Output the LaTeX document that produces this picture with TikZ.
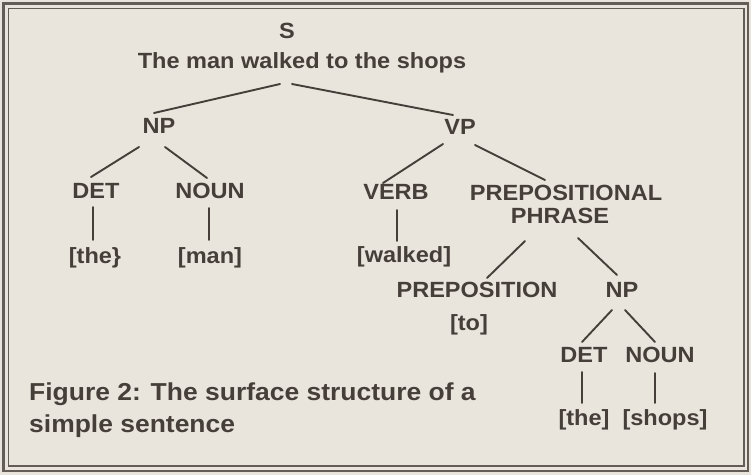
\documentclass[tikz,border=0pt]{standalone}
\usepackage{fontspec}
\newfontfamily\tf[FakeStretch=1.07]{Liberation Sans}
\newfontfamily\cf[FakeStretch=1.08]{Liberation Sans}
\usetikzlibrary{calc}
\definecolor{bgc}{HTML}{E9E5DD}
\definecolor{ink}{HTML}{463E39}
\definecolor{framec}{HTML}{645D57}
\tikzset{
  lbl/.style={inner sep=0pt, anchor=base, text=ink, font=\tf\bfseries\fontsize{22}{24}\selectfont},
  captxt/.style={inner sep=0pt, anchor=base west, text=ink, font=\cf\bfseries\fontsize{24.5}{26}\selectfont},
  conn/.style={draw=ink, line width=1.9pt, line cap=round}
}
\begin{document}
\begin{tikzpicture}[x=1pt,y=-1pt]
\useasboundingbox (0,0) rectangle (751,475);
\fill[bgc] (0,0) rectangle (751,475);
\draw[framec, line width=2.6pt] (3.5,3.5) rectangle (748,471);
\draw[framec, line width=1.5pt] (8.5,8.5) rectangle (744,466);

% nodes
\node[lbl] (s) at (287,38) {S};
\node[lbl] (sent) at (302,68) {The man walked to the shops};
\node[lbl] (np1) at (159,133) {NP};
\node[lbl] (vp) at (460,134) {VP};
\node[lbl] (det1) at (96,198) {DET};
\node[lbl] (noun1) at (210,198) {NOUN};
\node[lbl] (the1) at (95,263) {[the\}};
\node[lbl] (man) at (210,263) {[man]};
\node[lbl] (verb) at (396,199) {VERB};
\node[lbl] (pp1) at (566,200) {PREPOSITIONAL};
\node[lbl] (pp2) at (560,223) {PHRASE};
\node[lbl] (walked) at (404,262) {[walked]};
\node[lbl] (prep) at (477,297) {PREPOSITION};
\node[lbl] (np2) at (622,297) {NP};
\node[lbl] (to) at (469,330) {[to]};
\node[lbl] (det2) at (584,362) {DET};
\node[lbl] (noun2) at (660,362) {NOUN};
\node[lbl] (the2) at (584,425) {[the]};
\node[lbl] (shops) at (665,425) {[shops]};
\node[captxt] (cap1) at (29,400) {Figure 2: The surface structure of a};
\node[captxt] (cap2) at (29,432) {simple sentence};

% connectors
\draw[conn] ($(sent.base)+(-22,16)$) -- ($(np1.base)+(-5,-20)$);
\draw[conn] ($(sent.base)+(-10,16)$) -- ($(vp.base)+(-7,-19)$);
\draw[conn] ($(np1.base)+(-20,14)$) -- ($(det1.base)+(-5,-21)$);
\draw[conn] ($(np1.base)+(6,14)$) -- ($(noun1.base)+(-3,-20)$);
\draw[conn] ($(vp.base)+(-17,10)$) -- ($(verb.base)+(-13,-16)$);
\draw[conn] ($(vp.base)+(15,11)$) -- ($(pp1.base)+(-21,-20)$);
\draw[conn] ($(det1.base)+(-3,9)$) -- ($(the1.base)+(-2,-23)$);
\draw[conn] ($(noun1.base)+(-1,10)$) -- ($(man.base)+(-1,-23)$);
\draw[conn] ($(verb.base)+(1,11)$) -- ($(walked.base)+(-7,-21)$);
\draw[conn] ($(pp2.base)+(-35,18)$) -- ($(prep.base)+(10,-19)$);
\draw[conn] ($(pp2.base)+(18,15)$) -- ($(np2.base)+(-5,-22)$);
\draw[conn] ($(np2.base)+(-10,13)$) -- ($(det2.base)+(-2,-20)$);
\draw[conn] ($(np2.base)+(3,13)$) -- ($(noun2.base)+(-5,-20)$);
\draw[conn] ($(det2.base)+(-2,10)$) -- ($(the2.base)+(-2,-22)$);
\draw[conn] ($(noun2.base)+(-5,11)$) -- ($(shops.base)+(-10,-22)$);
\end{tikzpicture}
\end{document}
